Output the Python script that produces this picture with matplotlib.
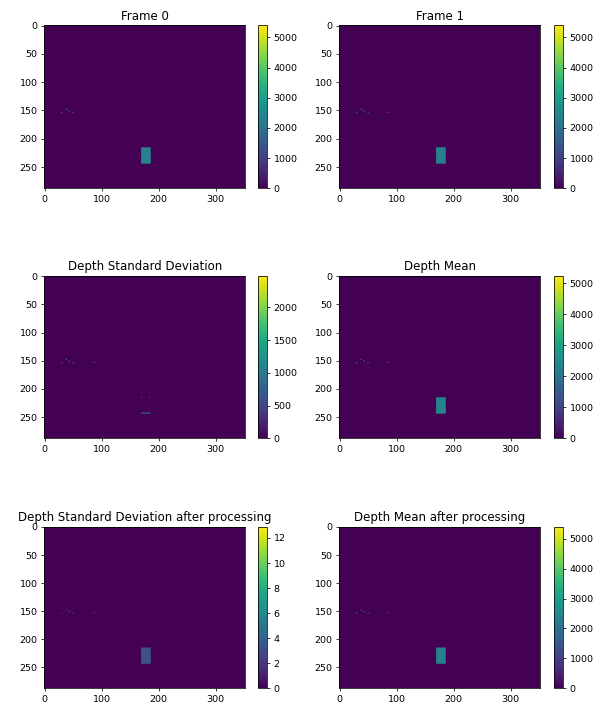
import numpy as np
from matplotlib import pyplot as plt

# depth image size (CIF)
n_rows, n_cols = 288, 352

titles = ['Frame 0', 'Frame 1',
          'Depth Standard Deviation', 'Depth Mean',
          'Depth Standard Deviation after processing', 'Depth Mean after processing']

# colour scale top of each panel
color_max = [5400, 5400, 2480, 5240, 12.9, 5400]

# the box in the lower middle of every frame: rows, cols
box_rows = (216, 245)
box_cols = (170, 187)
box_value = [2350, 2350, 0, 2350, 3.3, 2350]

# scattered small blobs (row, col) around row 150, each 2x2 px
blob_pts = [(154, 30), (148, 38), (151, 43), (154, 50)]
blob_value = [2300, 2300, 1100, 2300, 3.5, 2300]
far_pt = (154, 84)  # shows up everywhere but Frame 0

# std map: noise on the box edges and a few pixels
std_line_bottom = (243, 170, 187)
std_dots = [(215, 170), (215, 184), (22, 146)]
std_edge_value = 800


def make_frame(i):
    img = np.zeros((n_rows, n_cols))
    img[box_rows[0]:box_rows[1], box_cols[0]:box_cols[1]] = box_value[i]
    for r, c in blob_pts:
        img[r:r + 2, c:c + 2] = blob_value[i]
    if i != 0:
        r, c = far_pt
        img[r, c:c + 6] = blob_value[i] * 0.6
    if i == 2:
        r, c0, c1 = std_line_bottom
        img[r:r + 2, c0:c1] = std_edge_value
        for r, c in std_dots:
            img[r:r + 2, c:c + 2] = std_edge_value
    return img


W, H = 600, 704
dpi = 68
fig = plt.figure(figsize=(W / dpi, H / dpi), dpi=dpi)

col_x = [44.3, 339.3]
cb_x = [258.3, 554.3]
row_y = [(25.3, 188.3), (276.0, 438.3), (526.7, 688.3)]
ax_w = 200.7
cb_w = 8.7

for i, title in enumerate(titles):
    r, c = divmod(i, 2)
    top, bot = row_y[r]
    ax = fig.add_axes([col_x[c] / W, 1 - bot / H, ax_w / W, (bot - top) / H])
    cax = fig.add_axes([cb_x[c] / W, 1 - bot / H, cb_w / W, (bot - top) / H])
    im = ax.imshow(make_frame(i), cmap='viridis', vmin=0, vmax=color_max[i], aspect='auto')
    ax.set_title(title, fontsize=12.4)
    ax.set_xticks([0, 100, 200, 300])
    ax.set_yticks([0, 50, 100, 150, 200, 250])
    fig.colorbar(im, cax=cax)

fig.savefig('out.png', dpi=dpi)
